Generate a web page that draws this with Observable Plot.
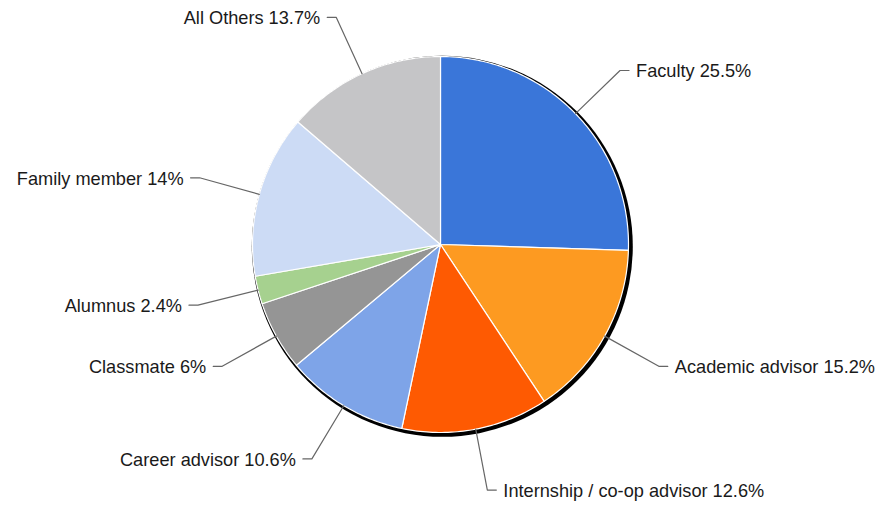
<!DOCTYPE html>
<html>
<head>
<meta charset="utf-8">
<script src="https://cdn.jsdelivr.net/npm/d3@7"></script>
<script src="https://cdn.jsdelivr.net/npm/@observablehq/plot@0.6"></script>
<style>
  html, body { margin: 0; padding: 0; background: #fff; }
  #chart svg { display: block; }
</style>
</head>
<body>
<div id="chart"></div>
<script>
const categories = ["Faculty", "Academic advisor", "Internship / co-op advisor", "Career advisor", "Classmate", "Alumnus", "Family member", "All Others"];
const values = [25.5, 15.2, 12.6, 10.6, 6, 2.4, 14, 13.7];
const valueLabels = ["25.5%", "15.2%", "12.6%", "10.6%", "6%", "2.4%", "14%", "13.7%"];
const colors = ["#3a76d9", "#fd9a21", "#fe5a02", "#7ea4e8", "#959595", "#a6d18f", "#ccdbf5", "#c5c5c7"];

const W = 880, H = 506;
const cx = 440, cy = 244, R = 188;
const elbowR = 250, hook = 9, gap = 7;

const pie = d3.pie().sort(null).value(d => d.value).startAngle(0).endAngle(2 * Math.PI);
const arcs = pie(categories.map((c, i) => ({ category: c, value: values[i], label: valueLabels[i] })));

const slicePts = [];
arcs.forEach(a => {
  const c = a.data.category;
  slicePts.push({ category: c, x: cx, y: cy });
  const n = Math.max(4, Math.ceil((a.endAngle - a.startAngle) * 60));
  for (let k = 0; k <= n; k++) {
    const t = a.startAngle + (a.endAngle - a.startAngle) * k / n;
    slicePts.push({ category: c, x: cx + R * Math.sin(t), y: cy - R * Math.cos(t) });
  }
  slicePts.push({ category: c, x: cx, y: cy });
});

const leaders = [];
const labels = [];
arcs.forEach(a => {
  const m = (a.startAngle + a.endAngle) / 2;
  const s = Math.sin(m), co = Math.cos(m);
  const right = s >= 0;
  const ex = cx + elbowR * s, ey = cy - elbowR * co;
  const hx = ex + (right ? hook : -hook);
  const c = a.data.category;
  leaders.push({ category: c, x: cx + R * s, y: cy - R * co });
  leaders.push({ category: c, x: ex, y: ey });
  leaders.push({ category: c, x: hx, y: ey });
  labels.push({ text: c + " " + a.data.label, x: hx + (right ? gap : -gap), y: ey, right });
});

const chart = Plot.plot({
  width: W, height: H,
  margin: 0,
  x: { domain: [0, W], range: [0, W], axis: null },
  y: { domain: [0, H], range: [0, H], axis: null },
  color: { domain: categories, range: colors },
  style: { fontFamily: "'Liberation Sans', Arial, sans-serif", background: "#fff" },
  marks: [
    Plot.dot([{ x: cx + 1.8, y: cy + 1.8 }], { x: "x", y: "y", r: R + 2.5, fill: "black", stroke: "none" }),
    Plot.line(slicePts, { x: "x", y: "y", z: "category", fill: "category", stroke: "white", strokeWidth: 1.2, strokeLinejoin: "round", curve: "linear" }),
    Plot.line(leaders, { x: "x", y: "y", z: "category", stroke: "#666", strokeWidth: 1.2 }),
    Plot.text(labels.filter(d => d.right), { x: "x", y: "y", text: "text", textAnchor: "start", fontSize: 18.2, dy: 1, fill: "#1a1a1a" }),
    Plot.text(labels.filter(d => !d.right), { x: "x", y: "y", text: "text", textAnchor: "end", fontSize: 18.2, dy: 1, fill: "#1a1a1a" })
  ]
});
document.getElementById("chart").appendChild(chart);
</script>
</body>
</html>
